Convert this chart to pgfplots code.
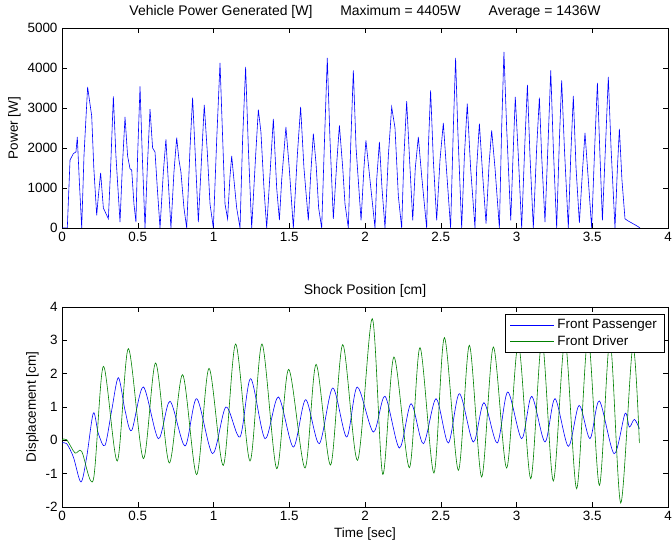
\documentclass[border=0pt]{standalone}
\usepackage{fontspec}
\setmainfont{Liberation Sans}
\usepackage{pgfplots}
\pgfplotsset{compat=1.18}
\definecolor{mgreen}{rgb}{0,0.5,0}
\definecolor{mblue}{rgb}{0,0,1}

\pgfplotstableread{
t P
0 0
0.035 0
0.053 1700
0.075 1860
0.092 1900
0.101 2275
0.114 1200
0.130 0
0.145 1800
0.169 3525
0.196 2800
0.210 1500
0.229 317
0.240 800
0.255 1380
0.273 500
0.306 230
0.321 1500
0.339 3290
0.356 1800
0.383 150
0.398 1500
0.416 2775
0.433 1800
0.449 1480
0.460 1450
0.475 600
0.488 150
0.499 1800
0.515 3540
0.530 1800
0.548 0
0.563 1500
0.581 2970
0.598 2000
0.614 1900
0.629 1000
0.647 0
0.669 1400
0.686 2215
0.704 1000
0.719 0
0.739 1400
0.757 2260
0.772 1700
0.785 1400
0.805 500
0.823 0
0.845 2000
0.862 3260
0.880 1800
0.900 150
0.922 1800
0.939 3080
0.959 1900
0.977 600
0.999 0
1.021 2200
1.043 4130
1.058 2500
1.076 600
1.093 230
1.109 1300
1.120 1800
1.135 1200
1.153 500
1.175 0
1.192 2200
1.212 4025
1.230 2000
1.252 0
1.278 1800
1.296 2960
1.313 2400
1.333 1000
1.351 0
1.377 1600
1.395 2730
1.417 1000
1.435 200
1.450 1200
1.478 2525
1.500 1500
1.527 0
1.553 1800
1.575 3025
1.597 1500
1.626 190
1.641 1300
1.659 2360
1.677 1600
1.694 500
1.714 0
1.731 2000
1.751 4250
1.769 2200
1.791 230
1.813 1600
1.831 2565
1.853 1500
1.868 600
1.890 0
1.905 2000
1.923 3940
1.941 2000
1.974 190
1.993 1500
2.006 2190
2.033 1200
2.066 0
2.077 1200
2.095 2150
2.112 1000
2.132 0
2.154 1800
2.176 3025
2.198 2500
2.220 800
2.242 0
2.257 1800
2.275 3170
2.293 1800
2.315 190
2.332 1500
2.352 2275
2.374 1300
2.407 0
2.418 2000
2.433 3440
2.451 1700
2.473 190
2.495 1700
2.517 2625
2.539 1400
2.565 0
2.583 2500
2.598 4250
2.612 2500
2.638 0
2.656 1800
2.675 3110
2.697 1500
2.726 0
2.737 1500
2.755 2610
2.777 1300
2.799 110
2.819 1600
2.836 2440
2.858 1500
2.887 0
2.902 2500
2.917 4405
2.935 2500
2.962 190
2.979 2000
2.992 3275
3.012 1800
3.034 0
3.056 2200
3.072 3580
3.089 1800
3.111 0
3.133 2000
3.151 3260
3.166 1800
3.188 150
3.210 2300
3.226 3940
3.243 2000
3.265 0
3.283 2200
3.298 3690
3.316 2000
3.342 0
3.358 1800
3.375 3300
3.393 1500
3.415 130
3.435 1400
3.452 2380
3.474 1200
3.496 0
3.518 2200
3.534 3630
3.551 1800
3.567 190
3.589 2200
3.606 3775
3.624 2000
3.650 0
3.666 1500
3.679 2480
3.696 1200
3.716 230
3.735 180
3.749 150
3.782 80
3.804 30
3.815 0
}\powerdata

\pgfplotstableread{
t d
0 -0.08
0.031 -0.10
0.075 -0.50
0.125 -1.25
0.163 -0.50
0.207 0.82
0.240 0.20
0.284 -0.15
0.328 0.90
0.372 1.88
0.416 0.90
0.460 0.30
0.537 1.60
0.636 0.05
0.713 1.17
0.812 -0.17
0.889 1.25
0.994 -0.40
1.082 1.00
1.175 0.10
1.245 1.85
1.340 0.05
1.428 1.30
1.527 -0.20
1.608 1.22
1.698 -0.10
1.787 1.57
1.879 0.10
1.949 1.60
2.055 0.25
2.132 1.32
2.227 -0.23
2.304 1.10
2.385 -0.10
2.469 1.25
2.550 -0.08
2.623 1.40
2.715 -0.05
2.785 1.13
2.873 -0.08
2.942 1.45
3.034 0.05
3.100 1.32
3.188 -0.05
3.254 1.25
3.342 -0.18
3.413 1.05
3.485 0.05
3.547 1.18
3.644 -0.40
3.716 0.80
3.745 0.40
3.778 0.63
3.811 0.35
}\passdata

\pgfplotstableread{
t d
0 0.02
0.031 0.02
0.086 -0.38
0.130 -0.33
0.207 -1.18
0.273 2.22
0.365 -0.62
0.438 2.75
0.537 -0.55
0.618 2.32
0.708 -0.68
0.796 1.97
0.889 -1.03
0.970 2.16
1.065 -0.75
1.146 2.89
1.241 -0.62
1.320 2.89
1.417 -0.85
1.496 2.13
1.604 -0.83
1.677 2.28
1.773 -0.74
1.853 2.87
1.951 -0.60
2.048 3.65
2.117 -1.02
2.191 2.50
2.293 -0.82
2.363 2.78
2.455 -0.98
2.524 3.08
2.616 -0.90
2.689 2.85
2.770 -1.10
2.847 2.80
2.935 -0.83
3.012 2.90
3.094 -1.15
3.168 3.00
3.243 -1.22
3.320 3.00
3.397 -1.45
3.472 3.10
3.547 -1.35
3.617 3.00
3.688 -1.88
3.767 2.80
3.811 -0.08
}\drivdata

\pgfplotsset{
  mpanel/.style={
    scale only axis, width=606bp, height=200bp,
    xmin=0, xmax=4,
    xtick={0,0.5,1,1.5,2,2.5,3,3.5,4},
    xticklabels={0,0.5,1,1.5,2,2.5,3,3.5,4},
    tick align=inside, major tick length=5bp,
    tick style={black, line width=0.5bp},
    axis line style={black, line width=0.6bp},
    font=\fontsize{13.5}{16}\selectfont,
    xticklabel style={yshift=-0.5bp},
    yticklabel style={xshift=-1bp},
    title style={at={(0.5,1)}, anchor=base, yshift=7bp, font=\fontsize{14}{16}\selectfont},
    clip=true,
  }
}

\begin{document}
\begin{tikzpicture}[x=1bp,y=1bp]
\useasboundingbox (0,0) rectangle (672,548);

\begin{axis}[mpanel,
  at={(62bp,320bp)}, anchor=south west,
  ymin=0, ymax=5000,
  ytick={0,1000,2000,3000,4000,5000},
  yticklabels={0,1000,2000,3000,4000,5000},
  ylabel={Power [W]},
  title={Vehicle Power Generated [W]\hspace{2em}Maximum = 4405W\hspace{2em}Average = 1436W},
]
\addplot[mblue, line width=0.6bp] table[x=t, y=P] {\powerdata};
\end{axis}

\begin{axis}[mpanel,
  at={(62bp,41bp)}, anchor=south west,
  ymin=-2, ymax=4,
  ytick={-2,-1,0,1,2,3,4},
  yticklabels={-2,-1,0,1,2,3,4},
  ylabel={Displacement [cm]},
  xlabel={Time [sec]},
  title={Shock Position [cm]},
  legend style={at={(1,1)}, anchor=north east, xshift=-4bp, yshift=-7bp,
    draw=black, line width=0.5bp, fill=white, inner xsep=4bp, inner ysep=3.5bp,
    font=\fontsize{13.5}{16}\selectfont, row sep=1.5bp,
    nodes={inner xsep=3bp}},
  legend cell align=left,
  legend image code/.code={\draw[#1, line width=0.6bp] (0bp,0bp) -- (44bp,0bp);},
]
\addplot[mblue, line width=0.6bp, smooth, tension=0.5] table[x=t, y=d] {\passdata};
\addlegendentry{Front Passenger}
\addplot[mgreen, line width=0.6bp, smooth, tension=0.5] table[x=t, y=d] {\drivdata};
\addlegendentry{Front Driver}
\end{axis}
\end{tikzpicture}
\end{document}
